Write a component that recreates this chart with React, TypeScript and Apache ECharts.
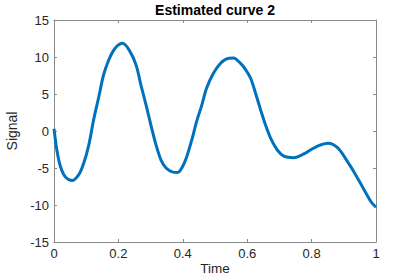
import React, { useEffect, useRef } from "react";
import * as echarts from "echarts";

const timeValues = [
  0, 0.009, 0.02, 0.035, 0.056, 0.077, 0.092, 0.108, 0.123, 0.139, 0.154, 0.17, 0.185, 0.199, 0.213,
  0.234, 0.255, 0.27, 0.286, 0.301, 0.317, 0.332, 0.348, 0.369, 0.384, 0.397, 0.412, 0.428, 0.443,
  0.459, 0.474, 0.495, 0.516, 0.536, 0.557, 0.578, 0.595, 0.611, 0.626, 0.642, 0.657, 0.673, 0.694,
  0.714, 0.745, 0.776, 0.795, 0.82, 0.851, 0.882, 0.908, 0.934, 0.96, 0.985, 1.0,
];
const signalValues = [
  0.3, -2.6, -4.8, -6.2, -6.7, -5.9, -4.4, -1.9, 1.5, 4.6, 7.6, 9.6, 10.9, 11.6, 11.85,
  10.9, 8.9, 6.2, 3.5, 0.8, -1.9, -3.9, -5.0, -5.55, -5.6, -5.0, -3.5, -1.2, 1.3,
  3.5, 5.8, 7.8, 9.1, 9.75, 9.85, 9.2, 8.3, 7.1, 5.1, 2.8, 0.8, -1.0, -2.6,
  -3.4, -3.6, -3.1, -2.6, -2.0, -1.65, -2.3, -3.9, -5.7, -7.7, -9.6, -10.3,
];
const titleText = "Estimated curve 2";
const xLabel = "Time";
const yLabel = "Signal";

const axisColor = "#8a8a8a";
const labelColor = "#262626";
const font = "Liberation Sans, Arial, Helvetica, sans-serif";

export default function App() {
  const ref = useRef<HTMLDivElement>(null);
  useEffect(() => {
    if (!ref.current) return;
    const chart = echarts.init(ref.current, undefined, { renderer: "svg" });
    const data = timeValues.map((t, i) => [t, signalValues[i]]);
    const baseX = {
      type: "value" as const,
      min: 0,
      max: 1,
      interval: 0.2,
      axisLine: { show: true, onZero: false, lineStyle: { color: axisColor, width: 1 } },
      axisTick: { show: true, inside: true, length: 3, lineStyle: { color: axisColor } },
      splitLine: { show: false },
    };
    const baseY = {
      type: "value" as const,
      min: -15,
      max: 15,
      interval: 5,
      axisLine: { show: true, onZero: false, lineStyle: { color: axisColor, width: 1 } },
      axisTick: { show: true, inside: true, length: 3, lineStyle: { color: axisColor } },
      splitLine: { show: false },
    };
    chart.setOption({
      animation: false,
      backgroundColor: "#ffffff",
      title: {
        text: titleText,
        left: 215,
        textAlign: "center",
        top: 3,
        padding: 0,
        textStyle: { fontFamily: font, fontSize: 14, fontWeight: "bold", color: "#000" },
      },
      grid: {
        left: 54,
        right: 39,
        top: 20,
        bottom: 35,
        containLabel: false,
        outerBoundsMode: "none",
      },
      xAxis: [
        {
          ...baseX,
          position: "bottom",
          name: xLabel,
          nameLocation: "middle",
          nameGap: 19,
          nameMoveOverlap: false,
          nameTextStyle: { fontFamily: font, fontSize: 13.5, lineHeight: 14, color: labelColor },
          axisLabel: {
            fontFamily: font,
            fontSize: 13,
            color: labelColor,
            margin: 5,
            formatter: (v: number) => String(Math.round(v * 10) / 10),
          },
        },
        { ...baseX, position: "top", axisLabel: { show: false } },
      ],
      yAxis: [
        {
          ...baseY,
          position: "left",
          name: yLabel,
          nameLocation: "middle",
          nameGap: 30,
          nameTextStyle: { fontFamily: font, fontSize: 14, color: labelColor },
          axisLabel: { fontFamily: font, fontSize: 13, color: labelColor, margin: 5 },
        },
        { ...baseY, position: "right", axisLabel: { show: false } },
      ],
      series: [
        {
          type: "line",
          data,
          smooth: 0.3,
          showSymbol: false,
          symbol: "none",
          lineStyle: { color: "#0072BD", width: 3 },
          clip: true,
        },
      ],
    });
    return () => chart.dispose();
  }, []);
  return (
    <div
      ref={ref}
      style={{ position: "fixed", left: 0, top: 0, width: 415, height: 277 }}
    />
  );
}
